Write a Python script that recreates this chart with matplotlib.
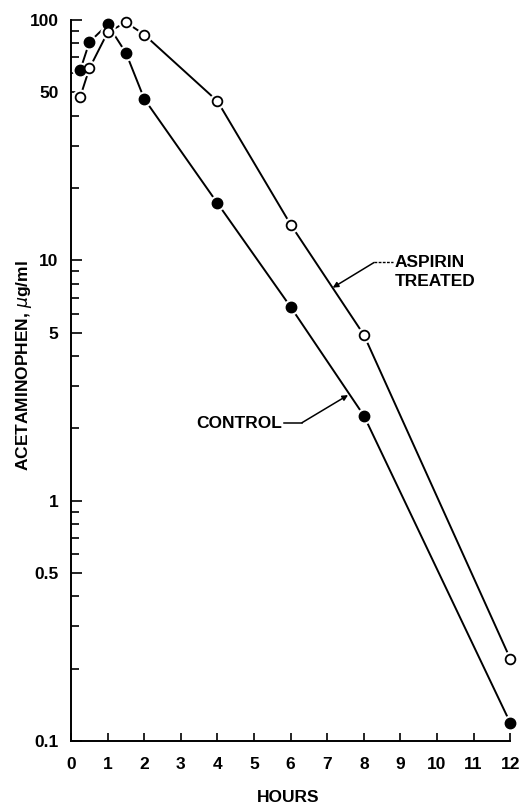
import matplotlib
matplotlib.use("Agg")
import matplotlib.pyplot as plt
from matplotlib.ticker import FixedLocator, NullFormatter

hours_control = [0.25, 0.5, 1, 1.5, 2, 4, 6, 8, 12]
control = [62, 81, 96, 73, 47, 17.3, 6.4, 2.26, 0.119]
hours_aspirin = [0.25, 0.5, 1, 1.5, 2, 4, 6, 8, 12]
aspirin = [48, 63, 89, 98, 87, 46, 14.1, 4.9, 0.22]
xticks = list(range(0, 13))
yticks = [0.1, 0.5, 1, 5, 10, 50, 100]
ytick_labels = ["0.1", "0.5", "1", "5", "10", "50", "100"]

plt.rcParams['font.family'] = ['Liberation Sans', 'DejaVu Sans']
fig = plt.figure(figsize=(5.19, 8.07), dpi=100)
ax = fig.add_axes([0.137, 0.082, 0.846, 0.893])
ax.set_yscale('log')
ax.set_xlim(0, 12)
ax.set_ylim(0.1, 100)

ax.plot(hours_control, control, color='black', lw=1.4, zorder=2)
ax.plot(hours_aspirin, aspirin, color='black', lw=1.4, zorder=2)
# white halos to mimic gaps
ax.plot(hours_control, control, 'o', ms=10.5, color='white', mec='white', zorder=3, clip_on=False)
ax.plot(hours_aspirin, aspirin, 'o', ms=10.5, color='white', mec='white', zorder=3, clip_on=False)
ax.plot(hours_control, control, 'o', ms=7.5, mfc='black', mec='black', zorder=4, clip_on=False)
ax.plot(hours_aspirin, aspirin, 'o', ms=7, mfc='white', mec='black', mew=1.3, zorder=4, clip_on=False)

for s in ['top', 'right']:
    ax.spines[s].set_visible(False)
for s in ['left', 'bottom']:
    ax.spines[s].set_linewidth(1.4)

ax.set_xticks(xticks)
ax.set_xticklabels([str(t) for t in xticks], fontsize=12.5, fontweight='bold')
ax.yaxis.set_major_locator(FixedLocator(yticks))
ax.set_yticklabels(ytick_labels, fontsize=12.5, fontweight='bold')
minors = [m * 10.0**e for e in (-1, 0, 1) for m in (2, 3, 4, 6, 7, 8, 9)]
ax.yaxis.set_minor_locator(FixedLocator(minors))
ax.yaxis.set_minor_formatter(NullFormatter())
ax.tick_params(axis='y', which='major', direction='in', length=8, width=1.2, pad=9)
ax.tick_params(axis='y', which='minor', direction='in', length=6, width=1.2)
ax.tick_params(axis='x', which='major', direction='in', length=6, width=1.2, pad=12)

ax.set_xlabel('HOURS', fontsize=12.5, fontweight='bold')
ax.xaxis.set_label_coords(0.495, -0.068)
ax.set_ylabel('ACETAMINOPHEN, $\\mu$g/ml', fontsize=12.5, fontweight='bold')
ax.yaxis.set_label_coords(-0.085, 0.52)

# ASPIRIN TREATED label with dashed lead-in and arrow
ax.text(8.85, 9.8, 'ASPIRIN', fontsize=12.5, fontweight='bold', ha='left', va='center')
ax.text(8.85, 8.2, 'TREATED', fontsize=12.5, fontweight='bold', ha='left', va='center')
ax.plot([8.28, 8.8], [9.8, 9.8], color='black', lw=1.0, ls=(0, (2, 1)))
ax.annotate('', xy=(7.15, 7.7), xytext=(8.28, 9.8),
            arrowprops=dict(arrowstyle='-|>', color='black', lw=1.1,
                            shrinkA=0, shrinkB=0, mutation_scale=8))

# CONTROL label with lead-in and arrow
ax.text(5.77, 2.09, 'CONTROL', fontsize=12.5, fontweight='bold', ha='right', va='center')
ax.plot([5.82, 6.31], [2.11, 2.11], color='black', lw=1.1)
ax.annotate('', xy=(7.57, 2.75), xytext=(6.31, 2.11),
            arrowprops=dict(arrowstyle='-|>', color='black', lw=1.1,
                            shrinkA=0, shrinkB=0, mutation_scale=8))

fig.savefig('out.png', dpi=100)
